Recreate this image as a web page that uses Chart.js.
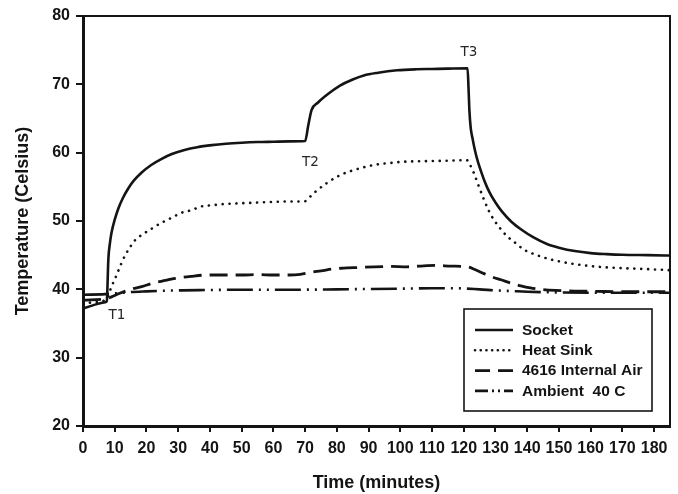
<!DOCTYPE html>
<html><head><meta charset="utf-8">
<script src="https://cdn.jsdelivr.net/npm/chart.js@4.4.1/dist/chart.umd.min.js"></script>
<style>html,body{margin:0;padding:0;background:#fff;}</style>
</head><body>
<canvas id="c" width="678" height="494"></canvas>
<script>
// ---- data ----
const seriesNames = ['Socket', 'Heat Sink', '4616 Internal Air', 'Ambient  40 C'];

const socketT = [0, 7, 7.5, 8, 8.5, 9, 10, 11.2, 12.5, 14.3, 16, 18.5, 21.5, 24.8, 28, 32, 36, 40.6, 45, 50, 55, 60, 65, 70, 71, 72, 74, 77, 81, 85, 88.5, 93, 99, 105, 110, 115, 121.2, 121.5, 121.8, 122.2, 122.8, 123.5, 124.5, 125.5, 126.5, 128, 130, 132, 135, 138, 142, 146.4, 150, 155, 160, 165, 170, 178, 185];
const socketV = [37.2, 38.1, 38.3, 44.5, 46.8, 48.3, 50.2, 51.9, 53.3, 54.8, 55.9, 57.1, 58.2, 59.1, 59.8, 60.4, 60.8, 61.1, 61.3, 61.45, 61.55, 61.6, 61.65, 61.7, 64, 66.2, 67.3, 68.5, 69.8, 70.7, 71.3, 71.7, 72.05, 72.2, 72.25, 72.3, 72.35, 69.5, 66, 63.6, 62, 60.4, 58.6, 57.2, 55.9, 54.3, 52.7, 51.4, 49.9, 48.8, 47.6, 46.6, 46.1, 45.6, 45.3, 45.15, 45.05, 45.0, 44.95];

const sinkT = [0, 7, 7.5, 9, 10.6, 12, 13.3, 15, 16.4, 19, 21.7, 25, 28, 31, 34.3, 37, 40.6, 45, 50, 55, 60, 65, 70, 71, 73.3, 77, 81, 85, 91.7, 97, 102, 107, 112.7, 121, 122, 123.2, 124.8, 126.4, 128, 129.6, 131.7, 133.8, 136, 139, 142.5, 146.4, 150, 154.8, 160, 165.3, 170, 175.9, 185];
const sinkV = [38.0, 38.4, 38.6, 40.4, 42.1, 43.7, 45, 46.3, 47.2, 48.1, 48.9, 49.8, 50.5, 51.2, 51.6, 52.1, 52.3, 52.5, 52.6, 52.7, 52.8, 52.85, 52.9, 53.3, 54.3, 55.6, 56.7, 57.4, 58.2, 58.5, 58.7, 58.75, 58.8, 58.9, 58.2, 57, 55, 53.1, 51.4, 50.1, 48.8, 47.7, 46.9, 45.8, 45.1, 44.5, 44.1, 43.7, 43.4, 43.2, 43.1, 43.0, 42.8];

const airT = [0, 7, 8, 9, 12, 15, 18.5, 22, 26, 29, 34, 39.5, 45, 50, 55, 60, 65, 68.5, 72, 75, 79, 82, 87, 92, 97, 102, 106, 111, 116, 121, 123.5, 126.4, 129, 131.7, 135, 138, 141, 144.3, 149, 155, 162, 170, 185];
const airV = [38.4, 38.6, 38.7, 38.9, 39.5, 40, 40.4, 40.9, 41.3, 41.6, 41.9, 42.1, 42.1, 42.1, 42.15, 42.1, 42.1, 42.2, 42.5, 42.7, 43, 43.1, 43.2, 43.3, 43.35, 43.3, 43.4, 43.5, 43.4, 43.3, 42.9, 42.3, 41.8, 41.4, 40.9, 40.5, 40.2, 40.0, 39.85, 39.75, 39.7, 39.65, 39.65];

const ambT = [0, 7, 10, 15, 20, 30, 40, 50, 60, 70, 80, 90, 100, 110, 118, 125, 130, 135, 140, 150, 160, 170, 185];
const ambV = [39.2, 39.3, 39.4, 39.6, 39.7, 39.85, 39.9, 39.95, 39.95, 39.95, 40.0, 40.05, 40.1, 40.15, 40.15, 40.0, 39.85, 39.75, 39.65, 39.55, 39.5, 39.5, 39.5];

const xTicks = [0, 10, 20, 30, 40, 50, 60, 70, 80, 90, 100, 110, 120, 130, 140, 150, 160, 170, 180];
const yTicks = [20, 30, 40, 50, 60, 70, 80];
const xRange = [0, 185];
const yRange = [20, 80];

const markerText = ['T1', 'T2', 'T3'];
const markerT = [10.7, 71.7, 121.6];
const markerV = [36.2, 58.5, 74.6];

// ---- chart ----
const pts = (t, v) => t.map((x, i) => ({x: x, y: v[i]}));
const INK = '#141414';

const datasets = [
  {label: seriesNames[0], data: pts(socketT, socketV), borderWidth: 2.6, borderDash: [], legendDash: [], borderCapStyle: 'butt'},
  {label: seriesNames[1], data: pts(sinkT, sinkV), borderWidth: 2.6, borderDash: [0.1, 6.8], legendDash: [0.1, 5.6], borderCapStyle: 'round'},
  {label: seriesNames[2], data: pts(airT, airV), borderWidth: 2.8, borderDash: [18, 8], legendDash: [15, 8], borderCapStyle: 'butt'},
  {label: seriesNames[3], data: pts(ambT, ambV), borderWidth: 2.6, borderDash: [26, 6, 2, 6, 2, 6], legendDash: [13, 4, 2, 4, 2, 4], borderCapStyle: 'butt'}
].map(d => Object.assign(d, {borderColor: INK, backgroundColor: INK, pointRadius: 0, fill: false, cubicInterpolationMode: 'monotone'}));

const framePlugin = {
  id: 'frame',
  afterDatasetsDraw(chart) {
    const {ctx, chartArea: a} = chart;
    ctx.save();
    ctx.strokeStyle = INK; ctx.lineWidth = 2;
    ctx.beginPath();
    ctx.moveTo(a.left, a.top); ctx.lineTo(a.right, a.top); ctx.lineTo(a.right, a.bottom);
    ctx.stroke();
    const xs = chart.scales.x, ys = chart.scales.y;
    ctx.fillStyle = '#262626';
    ctx.font = '13.5px "DejaVu Sans"';
    ctx.textAlign = 'center'; ctx.textBaseline = 'middle';
    markerText.forEach((s, i) => ctx.fillText(s, xs.getPixelForValue(markerT[i]), ys.getPixelForValue(markerV[i])));
    ctx.restore();
  },
  afterDraw(chart) {
    const {ctx, chartArea: a} = chart;
    const w = 188, h = 102;
    const bx = a.right - 18 - w, by = a.bottom - 15 - h;
    ctx.save();
    ctx.fillStyle = '#fff';
    ctx.fillRect(bx, by, w, h);
    ctx.strokeStyle = INK; ctx.lineWidth = 1.6;
    ctx.strokeRect(bx, by, w, h);
    ctx.font = 'bold 15.5px "Liberation Sans"';
    ctx.textBaseline = 'middle'; ctx.textAlign = 'left';
    chart.data.datasets.forEach((d, i) => {
      const y = by + 21 + i * 20.3;
      ctx.strokeStyle = INK; ctx.lineWidth = d.borderWidth;
      ctx.lineCap = d.borderCapStyle;
      ctx.setLineDash(d.legendDash);
      ctx.beginPath(); ctx.moveTo(bx + 11, y); ctx.lineTo(bx + 49, y); ctx.stroke();
      ctx.setLineDash([]);
      ctx.fillStyle = INK;
      ctx.fillText(d.label, bx + 58, y + 0.5);
    });
    ctx.restore();
  }
};

const tickFont = {family: 'Liberation Sans', weight: 'bold', size: 16};

new Chart(document.getElementById('c'), {
  type: 'line',
  data: {datasets},
  plugins: [framePlugin],
  options: {
    responsive: false,
    animation: false,
    devicePixelRatio: 1,
    layout: {padding: {top: 16, right: 8, left: 0, bottom: 0}},
    plugins: {legend: {display: false}, tooltip: {enabled: false}},
    scales: {
      x: {
        type: 'linear', min: xRange[0], max: xRange[1],
        afterBuildTicks: s => { s.ticks = xTicks.map(v => ({value: v})); },
        afterFit: s => { s.height = 68; },
        ticks: {color: INK, font: tickFont, padding: 7, maxRotation: 0, autoSkip: false},
        grid: {display: true, drawOnChartArea: false, drawTicks: true, tickLength: 6, color: INK, lineWidth: 2},
        border: {display: true, color: INK, width: 3},
        title: {display: true, text: 'Time (minutes)', color: INK, font: {family: 'Liberation Sans', weight: 'bold', size: 18}, padding: {top: 14, bottom: 0}}
      },
      y: {
        type: 'linear', min: yRange[0], max: yRange[1],
        afterBuildTicks: s => { s.ticks = yTicks.map(v => ({value: v})); },
        afterFit: s => { s.width = 83; },
        ticks: {color: INK, font: tickFont, padding: 6, autoSkip: false},
        grid: {display: true, drawOnChartArea: false, drawTicks: true, tickLength: 7, color: INK, lineWidth: 2},
        border: {display: true, color: INK, width: 3},
        title: {display: true, text: 'Temperature (Celsius)', color: INK, font: {family: 'Liberation Sans', weight: 'bold', size: 18}, padding: {top: 12, bottom: 0}}
      }
    }
  }
});
</script>
</body></html>
